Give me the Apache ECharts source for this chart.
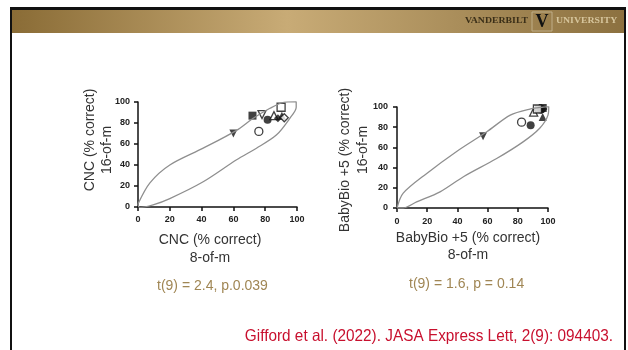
<!DOCTYPE html>
<html>
<head>
<meta charset="utf-8">
<script src="https://cdn.jsdelivr.net/npm/echarts@6/dist/echarts.min.js"></script>
<style>
  html, body { margin: 0; padding: 0; background: #fff; }
  #chart { width: 628px; height: 350px; }
</style>
</head>
<body>
<div id="chart"></div>
<script>
// left panel: CNC, 8-of-m (x) vs 16-of-m (y)
const cncX = [72, 78, 76, 60, 81.5, 85.5, 88, 90.5, 90, 92];
const cncY = [87, 88, 72, 70, 83, 87, 84.5, 87, 95, 85];
// right panel: BabyBio +5
const bbX = [57, 82.5, 88.5, 90.5, 94, 95.5, 96.5, 97, 96.5, 93];
const bbY = [71, 85, 82, 95, 98, 97.5, 99, 98, 90, 98];
// marker shapes per listener
const markers = ['rect', 'tdown-open', 'circle-open', 'tdown', 'circle', 'triangle-open', 'diamond', 'triangle', 'rect-open', 'diamond-open'];
const markersBB = ['tdown', 'circle-open', 'circle', 'triangle-open', 'rect', 'circle', 'rect', 'diamond', 'triangle', 'rect-open'];

// outline of the prediction region
const cncRegion = [
  [0, 3], [7.5, 23], [20, 40], [41, 56], [62, 73], [72, 84], [83, 94], [91, 99.5], [99.5, 100.3],
  [99.5, 95], [95.5, 84.5], [87, 68.5], [74.5, 56], [62, 45], [41, 24], [20, 8], [9.5, 2], [1, -0.5], [0, 3]
];
const bbRegion = [
  [0, 0], [4, 14.5], [19.5, 34], [39.5, 56], [59.5, 75.5], [75, 92], [88, 98], [97, 100], [100.5, 100.5],
  [100, 92], [94.5, 79], [83.5, 65.5], [66, 49], [44, 31], [28.5, 16], [13, 6], [4, 0], [0, 0]
];

const tdownPath = 'path://M0,0 L10,0 L5,9 Z';

function symbolOf(m) {
  const base = m.replace('-open', '');
  if (base === 'tdown') return tdownPath;
  return base;
}
function points(xs, ys, ms) {
  return xs.map((x, i) => {
    const open = ms[i].indexOf('-open') >= 0;
    return {
      value: [x, ys[i]],
      symbol: symbolOf(ms[i]),
      itemStyle: open
        ? { color: '#fff', borderColor: '#111', borderWidth: 1.3 }
        : { color: '#111', borderColor: '#111', borderWidth: 0 }
    };
  });
}

const axisCommon = {
  type: 'value', min: 0, max: 100, interval: 20,
  axisLine: { show: true, lineStyle: { color: '#111', width: 1.5 } },
  axisTick: { show: true, length: 4, lineStyle: { color: '#111', width: 1.5 } },
  axisLabel: { color: '#222', fontSize: 9, fontWeight: 'bold', fontFamily: 'Liberation Sans, Arial', margin: 4 },
  splitLine: { show: false }
};

const chart = echarts.init(document.getElementById('chart'));
const titleStyle = { fill: '#333', fontSize: 14, fontFamily: 'Liberation Sans, Arial', align: 'center', verticalAlign: 'middle' };
const goldText = { fill: '#A08654', fontSize: 14, fontFamily: 'Liberation Sans, Arial', verticalAlign: 'middle' };
const logoText = { fontSize: 8.5, fontWeight: 'bold', fontFamily: 'Liberation Serif', verticalAlign: 'middle' };

chart.setOption({
  animation: false,
  grid: [
    { left: 138, top: 102, width: 159, height: 105 },
    { left: 397, top: 107, width: 151, height: 101 }
  ],
  xAxis: [
    Object.assign({ gridIndex: 0, offset: 4 }, axisCommon),
    Object.assign({ gridIndex: 1, offset: 5 }, axisCommon)
  ],
  yAxis: [
    Object.assign({ gridIndex: 0, offset: 4 }, axisCommon),
    Object.assign({ gridIndex: 1, offset: 5 }, axisCommon)
  ],
  series: [
    {
      type: 'line', xAxisIndex: 0, yAxisIndex: 0, data: cncRegion, smooth: 0.3,
      showSymbol: false, lineStyle: { color: '#8f8f8f', width: 1.3 }, silent: true
    },
    {
      type: 'scatter', xAxisIndex: 0, yAxisIndex: 0, symbolSize: 8,
      data: points(cncX, cncY, markers)
    },
    {
      type: 'line', xAxisIndex: 1, yAxisIndex: 1, data: bbRegion, smooth: 0.3,
      showSymbol: false, lineStyle: { color: '#8f8f8f', width: 1.3 }, silent: true
    },
    {
      type: 'scatter', xAxisIndex: 1, yAxisIndex: 1, symbolSize: 8,
      data: points(bbX, bbY, markersBB)
    }
  ],
  graphic: [
    // slide frame and header bar
    { type: 'rect', shape: { x: 10, y: 7, width: 616, height: 3 }, style: { fill: '#111' } },
    { type: 'rect', shape: { x: 10, y: 7, width: 2, height: 343 }, style: { fill: '#111' } },
    { type: 'rect', shape: { x: 624, y: 7, width: 2, height: 343 }, style: { fill: '#111' } },
    {
      type: 'rect', shape: { x: 12, y: 10, width: 612, height: 23 },
      style: {
        fill: new echarts.graphic.LinearGradient(0, 0, 1, 0, [
          { offset: 0, color: '#8A6C36' },
          { offset: 0.45, color: '#C8AB76' },
          { offset: 1, color: '#8C7140' }
        ])
      }
    },
    { type: 'text', x: 465, y: 21, scaleX: 1.15, style: Object.assign({ text: 'VANDERBILT', fill: '#3b2f18' }, logoText) },
    { type: 'rect', shape: { x: 532, y: 12, width: 20, height: 19 }, style: { fill: 'rgba(0,0,0,0)', stroke: '#bfae88', lineWidth: 1 } },
    { type: 'text', x: 542, y: 22, style: { text: 'V', fill: '#111', fontSize: 18, fontWeight: 'bold', fontFamily: 'Liberation Serif', align: 'center', verticalAlign: 'middle' } },
    { type: 'text', x: 556, y: 21, scaleX: 1.15, style: Object.assign({ text: 'UNIVERSITY', fill: '#d6c59c' }, logoText) },

    // axis titles, left panel
    { type: 'text', x: 210, y: 240, style: Object.assign({ text: 'CNC (% correct)' }, titleStyle) },
    { type: 'text', x: 210, y: 258, style: Object.assign({ text: '8-of-m' }, titleStyle) },
    { type: 'text', x: 90, y: 140, rotation: Math.PI / 2, style: Object.assign({ text: 'CNC (% correct)' }, titleStyle) },
    { type: 'text', x: 107, y: 150, rotation: Math.PI / 2, style: Object.assign({ text: '16-of-m' }, titleStyle) },
    // axis titles, right panel
    { type: 'text', x: 468, y: 238, style: Object.assign({ text: 'BabyBio +5 (% correct)' }, titleStyle) },
    { type: 'text', x: 468, y: 255, style: Object.assign({ text: '8-of-m' }, titleStyle) },
    { type: 'text', x: 345, y: 160, rotation: Math.PI / 2, style: Object.assign({ text: 'BabyBio +5 (% correct)' }, titleStyle) },
    { type: 'text', x: 363, y: 150, rotation: Math.PI / 2, style: Object.assign({ text: '16-of-m' }, titleStyle) },

    // statistics and citation
    { type: 'text', x: 157, y: 286, style: Object.assign({ text: 't(9) = 2.4, p.0.039' }, goldText) },
    { type: 'text', x: 409, y: 284, style: Object.assign({ text: 't(9) = 1.6, p = 0.14' }, goldText) },
    {
      type: 'text', x: 613, y: 336, scaleX: 0.93,
      style: {
        text: 'Gifford et al. (2022). JASA Express Lett, 2(9): 094403.', fill: '#C8102E',
        fontSize: 16.5, fontFamily: 'Liberation Sans, Arial', align: 'right', verticalAlign: 'middle'
      }
    }
  ]
});
</script>
</body>
</html>
